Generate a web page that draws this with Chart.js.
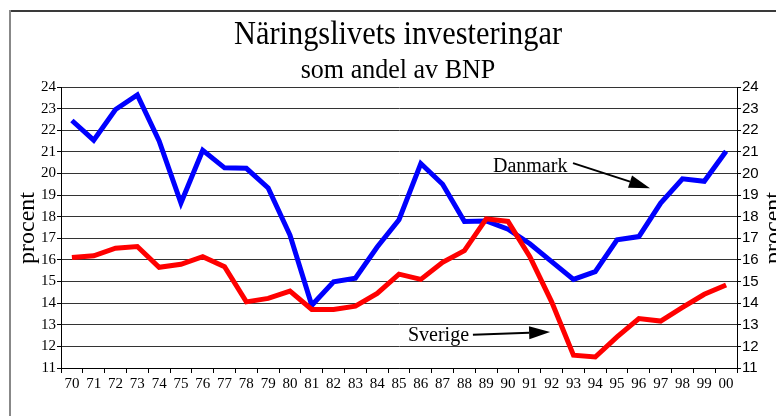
<!DOCTYPE html>
<html><head><meta charset="utf-8">
<script src="https://cdn.jsdelivr.net/npm/chart.js@4.4.1/dist/chart.umd.min.js"></script>
<style>html,body{margin:0;padding:0;background:#fff;overflow:hidden}</style>
</head><body>
<canvas id="c" width="776" height="416" style="width:776px;height:416px;display:block"></canvas>
<script>
const years = ['70','71','72','73','74','75','76','77','78','79','80','81','82','83','84','85','86','87','88','89','90','91','92','93','94','95','96','97','98','99','00'];
const danmark = [22.45,21.54,22.96,23.63,21.5,18.63,21.07,20.26,20.24,19.33,17.15,13.9,14.99,15.15,16.6,17.86,20.46,19.5,17.78,17.8,17.42,16.75,15.92,15.1,15.46,16.93,17.08,18.63,19.75,19.64,21.03];
const sverige = [16.11,16.19,16.54,16.62,15.66,15.8,16.15,15.69,14.06,14.22,14.56,13.71,13.71,13.86,14.45,15.34,15.1,15.89,16.43,17.9,17.78,16.15,14.06,11.59,11.51,12.44,13.29,13.17,13.8,14.41,14.84];
const yMin = 11, yMax = 24, yStep = 1;
const titleText = 'Näringslivets investeringar';
const subtitleText = 'som andel av BNP';
const axisTitle = 'procent';
const seriesNames = ['Danmark', 'Sverige'];

const SERIF = '"Liberation Serif", "Times New Roman", serif';
const SANS = '"Liberation Sans", Arial, sans-serif';

// annotation anchors in data coordinates: [category index, value]
const annotations = [
  {text: seriesNames[0], at: [19.31, 20.08], from: [22.98, 20.48], to: [26.51, 19.32]},
  {text: seriesNames[1], at: [15.41, 12.23], from: [18.39, 12.54], to: [21.93, 12.66]}
];

function condensedText(ctx, text, x, y, size, sx) {
  ctx.save();
  ctx.font = size + 'px ' + SERIF;
  ctx.translate(x, y);
  ctx.scale(sx, 1);
  ctx.fillText(text, 0, 0);
  ctx.restore();
}

const decor = {
  id: 'decor',
  beforeDraw(chart) {
    const ctx = chart.ctx;
    ctx.save();
    ctx.fillStyle = '#fff';
    ctx.fillRect(0, 0, chart.width, chart.height);
    ctx.fillStyle = '#3a3a3a';
    ctx.fillRect(9, 10, chart.width - 9, 2);
    ctx.fillStyle = '#888';
    ctx.fillRect(9, 10, 2, chart.height - 10);
    ctx.restore();
  },
  afterDraw(chart) {
    const ctx = chart.ctx;
    const xs = chart.scales.x, ys = chart.scales.y;
    const px = i => xs.left + (xs.right - xs.left) / years.length * (i + 0.5);
    ctx.save();
    ctx.fillStyle = '#000';
    ctx.textAlign = 'center';
    ctx.textBaseline = 'alphabetic';
    const cx = (chart.chartArea.left + chart.chartArea.right) / 2 - 1;
    condensedText(ctx, titleText, cx, 44, 33, 0.92);
    condensedText(ctx, subtitleText, cx, 78, 28, 0.93);
    // axis titles
    ctx.font = '24px ' + SERIF;
    ctx.save(); ctx.translate(34, 228); ctx.rotate(-Math.PI / 2); ctx.fillText(axisTitle, 0, 0); ctx.restore();
    ctx.save(); ctx.translate(780, 228); ctx.rotate(-Math.PI / 2); ctx.fillText(axisTitle, 0, 0); ctx.restore();
    // annotations
    ctx.font = '20px ' + SERIF;
    ctx.textAlign = 'left';
    annotations.forEach(a => {
      ctx.fillText(a.text, px(a.at[0]), ys.getPixelForValue(a.at[1]));
      const x1 = px(a.from[0]), y1 = ys.getPixelForValue(a.from[1]);
      const x2 = px(a.to[0]), y2 = ys.getPixelForValue(a.to[1]);
      const ang = Math.atan2(y2 - y1, x2 - x1);
      const hl = 21, hw = 6.5;
      const bx = x2 - hl * Math.cos(ang), by = y2 - hl * Math.sin(ang);
      ctx.strokeStyle = '#000'; ctx.lineWidth = 2;
      ctx.beginPath(); ctx.moveTo(x1, y1); ctx.lineTo(bx, by); ctx.stroke();
      ctx.beginPath();
      ctx.moveTo(x2, y2);
      ctx.lineTo(bx + hw * Math.sin(ang), by - hw * Math.cos(ang));
      ctx.lineTo(bx - hw * Math.sin(ang), by + hw * Math.cos(ang));
      ctx.closePath(); ctx.fill();
    });
    ctx.restore();
  }
};

new Chart(document.getElementById('c'), {
  type: 'line',
  data: {
    labels: years,
    datasets: [
      {label: seriesNames[0], data: danmark, borderColor: '#0000ff', backgroundColor: '#0000ff', borderWidth: 5, pointRadius: 0, tension: 0, order: 1},
      {label: seriesNames[1], data: sverige, borderColor: '#ff0000', backgroundColor: '#ff0000', borderWidth: 5, pointRadius: 0, tension: 0, order: 0}
    ]
  },
  options: {
    responsive: false,
    animation: false,
    devicePixelRatio: 1,
    layout: {padding: {top: 87, left: 0, right: 0, bottom: 0}},
    plugins: {legend: {display: false}, tooltip: {enabled: false}, title: {display: false}},
    scales: {
      x: {
        type: 'category', offset: true,
        grid: {offset: true, drawOnChartArea: false, drawTicks: true, tickLength: 5, color: '#000'},
        border: {display: true, color: '#000', width: 1},
        ticks: {font: {family: SERIF, size: 15}, color: '#000', padding: 2, maxRotation: 0, autoSkip: false},
        afterFit: s => { s.height = 48; }
      },
      y: {
        position: 'left', min: yMin, max: yMax,
        ticks: {stepSize: yStep, font: {family: SERIF, size: 15}, color: '#000', padding: 1},
        grid: {color: '#333', tickColor: '#000', tickLength: 4},
        border: {display: true, color: '#000'},
        afterFit: s => { s.width = 61; }
      },
      y2: {
        position: 'right', min: yMin, max: yMax,
        ticks: {stepSize: yStep, font: {family: SANS, size: 15}, color: '#000', padding: 1},
        grid: {drawOnChartArea: false, tickColor: '#000', tickLength: 4},
        border: {display: true, color: '#000'},
        afterFit: s => { s.width = 39; }
      }
    }
  },
  plugins: [decor]
});
</script>
</body></html>
